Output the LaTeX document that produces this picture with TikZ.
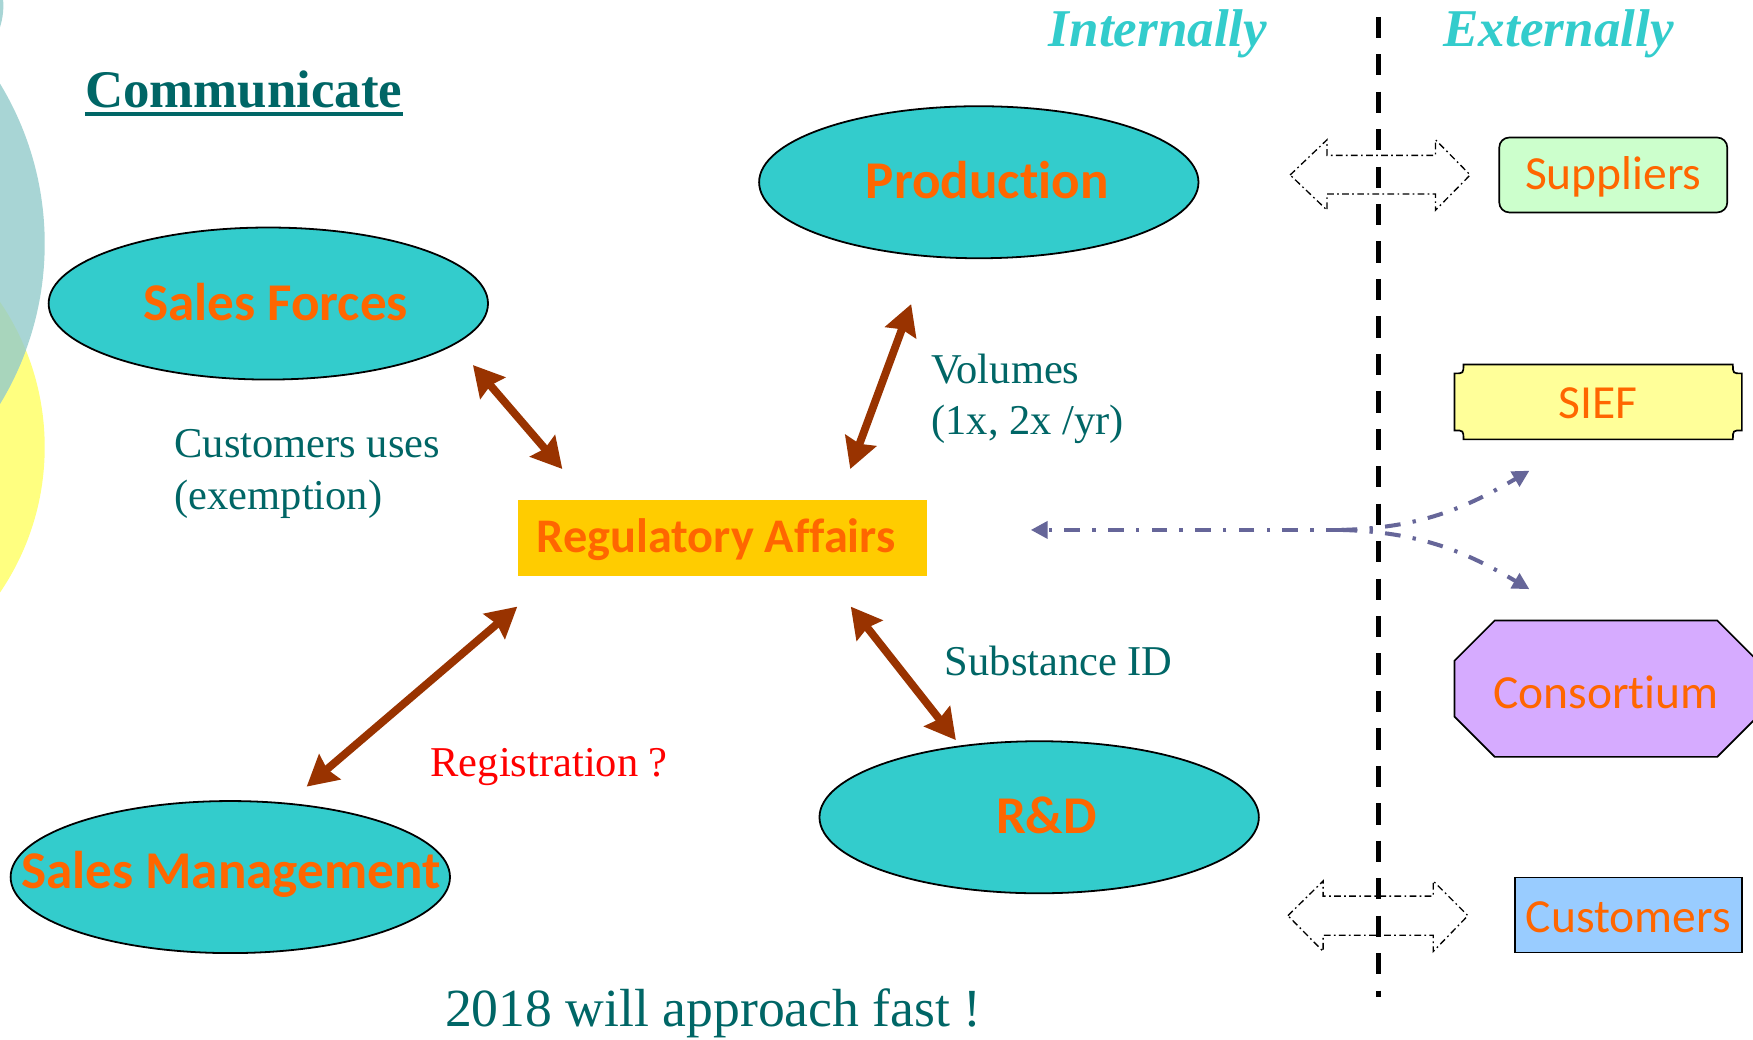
\documentclass[tikz,border=0pt]{standalone}
\usepackage{fontspec}
\setmainfont{Liberation Serif}
\newfontfamily\calfont[Ligatures=CommonOff]{Carlito}
\usetikzlibrary{shapes.geometric,arrows.meta}
\definecolor{ellfill}{HTML}{33CCCC}
\definecolor{orng}{HTML}{FF6600}
\definecolor{dteal}{HTML}{006666}
\definecolor{lteal}{HTML}{33CCCC}
\definecolor{brn}{HTML}{993300}
\definecolor{purp}{HTML}{666699}
\definecolor{rafill}{HTML}{FFCC00}
\definecolor{supfill}{HTML}{CCFFCC}
\definecolor{sieffill}{HTML}{FFFF99}
\definecolor{consfill}{HTML}{D6ABFF}
\definecolor{custfill}{HTML}{99CCFF}
\definecolor{circteal}{HTML}{A8D5D5}
\definecolor{circyel}{HTML}{FFFF80}
\definecolor{circmix}{HTML}{A8D5BC}
\begin{document}
\begin{tikzpicture}[x=1pt,y=-1pt,
  ell/.style={ellipse, draw=black, line width=1.6pt, fill=ellfill,
    minimum width=393pt, minimum height=136pt, inner sep=0pt},
  elltext/.style={inner sep=0pt, text=orng, font=\calfont\bfseries\fontsize{47.5}{57}\selectfont},
  extbox/.style={draw=black, line width=1.5pt, inner sep=0pt, text=orng,
    font=\calfont\fontsize{42.5}{51}\selectfont},
  exttext/.style={inner sep=0pt, text=orng, font=\calfont\fontsize{42.5}{51}\selectfont},
  brarrow/.style={draw=brn, line width=7pt,
    {Stealth[length=27pt,width=29pt,inset=3pt]}-{Stealth[length=27pt,width=29pt,inset=3pt]}},
  parrow/.style={draw=purp, line width=3.6pt, dash pattern=on 14pt off 11pt on 3pt off 11pt},
  ptip/.style={-{Triangle[length=15pt,width=15pt]}},
  outarrow/.style={draw=black, line width=1.2pt, dash pattern=on 6pt off 3pt on 1.5pt off 3pt},
  lbl/.style={text=dteal, inner sep=0pt, align=left, font=\fontsize{38}{46}\selectfont},
  head/.style={text=lteal, inner sep=0pt, font=\bfseries\itshape\fontsize{47.5}{57}\selectfont}
]
\useasboundingbox (0,0) rectangle (1568,930);
\fill[white] (0,0) rectangle (1568,930);

% background circles at the left edge
\fill[circteal] (-60,5) circle (63);
\fill[circyel] (-191,400) circle (231);
\fill[circteal] (-236,218) circle (276);
\begin{scope}
  \clip (-191,400) circle (231);
  \fill[circmix] (-236,218) circle (276);
\end{scope}

% title
\node[anchor=base west, inner sep=0pt, text=dteal, font=\bfseries\fontsize{47.3}{56}\selectfont] (comm) at (76,96) {Communicate};
\draw[dteal, line width=3pt] ([yshift=-6pt]comm.base west) -- ([yshift=-6pt]comm.base east);

\node[head, anchor=base west] (intl) at (938,42) {Internally};
\node[head, anchor=base west] (extl) at (1291,42) {Externally};

% dividing line
\coordinate (dtop) at (1233,15);
\coordinate (dbot) at (1233,892);
\draw[line width=4.5pt, dash pattern=on 19pt off 14.5pt] (dtop) -- (dbot);

% internal nodes
\node[ell] (prod) at (875.5,163) {};
\node[elltext] (prodt) at (883,161) {Production};
\node[ell] (sf) at (240,271.5) {};
\node[elltext] (sft) at (246.5,270) {Sales Forces};
\node[ell] (rd) at (929.5,731) {};
\node[elltext] (rdt) at (936,729) {R\&D};
\node[ell] (sm) at (206,784.5) {};
\node[elltext] (smt) at (206.5,782) {Sales Management};
\node[fill=rafill, minimum width=366pt, minimum height=68pt, inner sep=0pt] (ra) at (646,481) {};
\node[inner sep=0pt, text=orng, font=\calfont\bfseries\fontsize{43.2}{52}\selectfont] (rat) at (640.5,483) {Regulatory Affairs};

% brown arrows
\coordinate (a1) at (423,326.5); \coordinate (a2) at (503,419.5);
\coordinate (b1) at (815,272);   \coordinate (b2) at (760.5,419.5);
\coordinate (c1) at (761,542.6); \coordinate (c2) at (855,662);
\coordinate (d1) at (462.7,542.6); \coordinate (d2) at (274.3,703.6);
\draw[brarrow] (a1) -- (a2);
\draw[brarrow] (b1) -- (b2);
\draw[brarrow] (c1) -- (c2);
\draw[brarrow] (d1) -- (d2);

% labels
\node[lbl, anchor=west] (lcu) at (156,424) {Customers uses\\(exemption)};
\node[lbl, anchor=west] (lvo) at (833,357) {Volumes\\(1x, 2x /yr)};
\node[lbl, anchor=west] (lsi) at (845,591) {Substance ID};
\node[lbl, anchor=west, text=red] (lre) at (385,686) {Registration ?};
\node[lbl, font=\fontsize{48}{58}\selectfont] (l18) at (638,906) {2018 will approach fast !};

% external nodes
\node[extbox, fill=supfill, rounded corners=9pt, minimum width=204pt, minimum height=67pt] (sup) at (1443,156.5) {};
\node[exttext] (supt) at (1443,158.5) {Suppliers};
\fill[sieffill, draw=black, line width=1.5pt]
  (1309,326) -- (1550,326) .. controls (1550,334) .. (1558,334) -- (1558,385)
  .. controls (1550,385) .. (1550,393) -- (1309,393) .. controls (1309,385) .. (1301,385)
  -- (1301,334) .. controls (1309,334) .. (1309,326) -- cycle;
\node[exttext] (sief) at (1429.5,360.5) {SIEF};
\fill[consfill, draw=black, line width=1.5pt]
  (1337,555) -- (1536,555) -- (1572,591) -- (1572,641) -- (1536,677) -- (1337,677)
  -- (1301,641) -- (1301,591) -- cycle;
\node[exttext] (cons) at (1436.5,619) {Consortium};
\node[extbox, fill=custfill, minimum width=203pt, minimum height=67pt] (cust) at (1456.5,818.5) {};
\node[exttext] (custt) at (1456.5,820) {Customers};

% outlined double arrows
\draw[outarrow] (1154,156.5) -- (1187,125) -- (1187,139) -- (1284,139) -- (1284,125)
  -- (1315,156.5) -- (1284,188) -- (1284,173.5) -- (1187,173.5) -- (1187,188) -- cycle;
\draw[outarrow] (1152,819) -- (1183.5,788) -- (1183.5,801.5) -- (1282,801.5) -- (1282,788)
  -- (1313,819) -- (1282,851) -- (1282,836.5) -- (1183.5,836.5) -- (1183.5,851) -- cycle;

% purple dash-dot arrows
\coordinate (pb) at (1200,474);
\coordinate (pl) at (922,474);
\coordinate (pu) at (1368,421);
\coordinate (pd) at (1368,527);
\draw[parrow, ptip] (pb) -- (pl);
\draw[parrow, ptip] (pb) .. controls (1270,472) and (1310,455) .. (pu);
\draw[parrow, ptip] (pb) .. controls (1270,476) and (1310,493) .. (pd);
\end{tikzpicture}
\end{document}
